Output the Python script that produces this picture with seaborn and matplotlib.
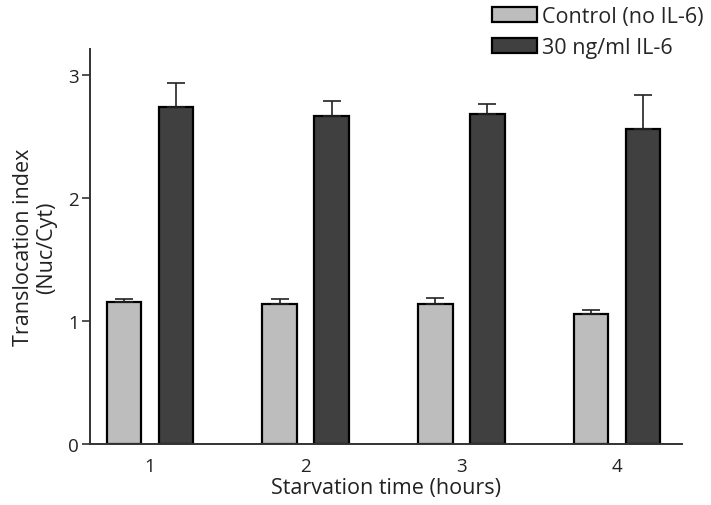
import numpy as np
import pandas as pd
import matplotlib
matplotlib.use("Agg")
import matplotlib.pyplot as plt
import seaborn as sns

# Data
times = ["1", "2", "3", "4"]
series = ["Control (no IL-6)", "30 ng/ml IL-6"]
control_mean = [1.15, 1.135, 1.14, 1.06]
control_err = [0.028, 0.04, 0.045, 0.027]
il6_mean = [2.74, 2.667, 2.68, 2.56]
il6_err = [0.19, 0.12, 0.087, 0.276]
colors = ["#bdbdbd", "#404040"]

df = pd.DataFrame({
    "time": times * 2,
    "group": [series[0]] * 4 + [series[1]] * 4,
    "value": control_mean + il6_mean,
    "err": control_err + il6_err,
})

sns.set_style("white")
plt.rcParams["font.family"] = ["Open Sans", "DejaVu Sans"]

fig = plt.figure(figsize=(7.11, 5.06), dpi=100)
ax = fig.add_axes([90 / 711, 1 - 445 / 506, (682 - 90) / 711, (445 - 50) / 506])

sns.barplot(data=df, x="time", y="value", hue="group", hue_order=series,
            palette=colors, width=0.668, gap=0.33, edgecolor="black",
            linewidth=1.6, errorbar=None, ax=ax, legend=True, saturation=1)

# error bars (upper only) placed at bar centres
for container, errs in zip(ax.containers, [control_err, il6_err]):
    for patch, e in zip(container.patches, errs):
        xc = patch.get_x() + patch.get_width() / 2
        h = patch.get_height()
        ax.errorbar(xc, h, yerr=[[0], [e]], fmt="none", ecolor="#222222",
                    elinewidth=1.2, capsize=6.5, capthick=1.2, zorder=1)

ax.set_xlim(-0.385, 3.417)
ax.set_ylim(0, 3.21)
ax.set_yticks([0, 1, 2, 3])
ax.set_xlabel("Starvation time (hours)", fontsize=15.5, color="#222222", labelpad=1)
ax.set_ylabel("Translocation index\n(Nuc/Cyt)", fontsize=15.5, color="#222222",
              linespacing=1.1, labelpad=8)
for s in ["top", "right"]:
    ax.spines[s].set_visible(False)
for s in ["left", "bottom"]:
    ax.spines[s].set_color("#333333")
    ax.spines[s].set_linewidth(1.4)
ax.tick_params(axis="y", left=True, length=6, width=1.2, color="#333333",
               labelsize=13.5, labelcolor="#222222", pad=2)
ax.tick_params(axis="x", bottom=False, labelsize=13.5, labelcolor="#222222", pad=6)

handles, labels = ax.get_legend_handles_labels()
ax.legend_.remove()
fig.legend(handles, labels, loc="upper right", bbox_to_anchor=(704 / 711, 1 - 7 / 506),
           frameon=False, fontsize=15.5, handlelength=2.1, handleheight=0.7,
           handletextpad=0.25, labelspacing=0.45, borderpad=0, borderaxespad=0)

fig.savefig("out.png", dpi=100)
